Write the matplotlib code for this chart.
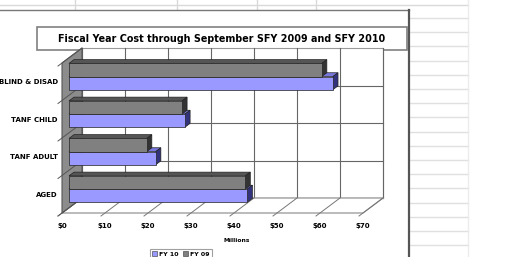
import numpy as np
import matplotlib
matplotlib.use('Agg')
import matplotlib.pyplot as plt
from matplotlib import transforms
from matplotlib.patches import Polygon, Rectangle, Patch

# dati (milioni di $)
categorie = ['AGED', 'TANF ADULT', 'TANF CHILD', 'BLIND & DISAD']
fy09 = [41.0, 18.1, 26.3, 58.8]
fy10 = [41.5, 20.2, 27.0, 61.4]
tick_vals = [0, 10, 20, 30, 40, 50, 60, 70]
tick_labels = ['$0', '$10', '$20', '$30', '$40', '$50', '$60', '$70']
titolo = 'Fiscal Year Cost through September SFY 2009 and SFY 2010'

W, H = 509, 257
fig = plt.figure(figsize=(W / 100, H / 100), dpi=100)
fig.patch.set_facecolor('white')

# asse di sfondo in pixel (foglio excel + riquadro del grafico)
bg = fig.add_axes([0, 0, 1, 1])
bg.set_xlim(0, W)
bg.set_ylim(H, 0)
bg.axis('off')

grid_c = '#d9d9d9'
bg.plot([0, 468], [4.5, 4.5], color=grid_c, lw=1)
for xv in [75, 177, 257, 316]:
    bg.plot([xv, xv], [0, 9], color=grid_c, lw=1)
for k in range(18):
    yv = 18 + 14.2 * k
    bg.plot([410, 468], [yv, yv], color='#e0e0e0', lw=1)
bg.plot([468, 468], [0, H], color='#ececec', lw=1)

bg.plot([-2, 409], [9.5, 9.5], color='#777777', lw=1)
bg.plot([409, 409], [9.5, H + 2], color='#555555', lw=1.6)

bg.add_patch(Rectangle((37, 27), 370, 23, facecolor='white', edgecolor='#808080', lw=1.2))
bg.text(222, 38.5, titolo, ha='center', va='center', fontsize=6.9, fontweight='bold')
bg.text(237, 241, 'Millions', ha='center', va='center', fontsize=4.3, fontweight='bold')

# asse dei dati sul piano frontale
ax = fig.add_axes([62 / W, 1 - 213 / H, 301 / W, 150 / H])
ax.set_xlim(0, 70)
ax.set_ylim(0, 4)
ax.patch.set_alpha(0)
for s in ax.spines.values():
    s.set_visible(False)
ax.set_xticks(tick_vals)
ax.set_xticklabels(tick_labels, fontsize=5, fontweight='bold')
ax.set_yticks(np.arange(len(categorie)) + 0.5)
ax.set_yticklabels(categorie, fontsize=5, fontweight='bold')
ax.tick_params(axis='x', length=0, pad=7)
ax.tick_params(axis='y', length=0, pad=3)

DX, DY = 20, 15  # spostamento in profondita (pixel)


def shift(d):
    return transforms.offset_copy(ax.transData, fig=fig, x=DX * d, y=DY * d, units='dots')


def P(x, y, d):
    px, py = ax.transData.transform((x, y))
    return (px + DX * d, py + DY * d)


def poly(pts, z=1, **kw):
    p = Polygon(pts, closed=True, transform=transforms.IdentityTransform(), clip_on=False,
                zorder=z, **kw)
    ax.add_patch(p)


def linea(p1, p2, z=1.5, **kw):
    ax.plot([p1[0], p2[0]], [p1[1], p2[1]], transform=transforms.IdentityTransform(),
            clip_on=False, zorder=z, **kw)


wall_c = '#666666'
# parete di fondo
poly([P(0, 0, 1), P(70, 0, 1), P(70, 4, 1), P(0, 4, 1)], facecolor='white', edgecolor='#999999', lw=0.8)
for v in tick_vals:
    linea(P(v, 0, 1), P(v, 4, 1), color=wall_c, lw=0.8)
for y in [1, 2, 3]:
    linea(P(0, y, 1), P(70, y, 1), color=wall_c, lw=0.8)
linea(P(0, 0, 1), P(70, 0, 1), color='#999999', lw=0.8)

# pavimento
poly([P(0, 0, 0), P(70, 0, 0), P(70, 0, 1), P(0, 0, 1)], z=1.6, facecolor='white', edgecolor='#888888', lw=0.8)
for v in tick_vals:
    linea(P(v, 0, -0.2), P(v, 0, 1), z=1.7, color='#777777', lw=0.7)

# parete sinistra
poly([P(0, 0, 0), P(0, 0, 1), P(0, 4, 1), P(0, 4, 0)], z=1.8, facecolor='#8c8c8c', edgecolor='#555555', lw=0.8)
for y in [0, 1, 2, 3, 4]:
    linea(P(0, y, -0.2), P(0, y, 1), z=1.9, color='#555555', lw=0.7)

# barre
d0, d1 = 0.35, 0.6
h = 0.35
y_pos = np.arange(len(categorie)) + 0.5
stili = {
    'FY 10': ('#9999ff', '#7777dd', '#33337d'),
    'FY 09': ('#808080', '#555555', '#333333'),
}

for i in range(len(categorie)):
    for nome, val, yc in [('FY 10', fy10[i], y_pos[i] - h / 2), ('FY 09', fy09[i], y_pos[i] + h / 2)]:
        front, top, side = stili[nome]
        y0, y1 = yc - h / 2, yc + h / 2
        poly([P(0, y1, d0), P(val, y1, d0), P(val, y1, d1), P(0, y1, d1)], z=3,
             facecolor=top, edgecolor='#222222', lw=0.5)
        poly([P(val, y0, d0), P(val, y0, d1), P(val, y1, d1), P(val, y1, d0)], z=3,
             facecolor=side, edgecolor='#222222', lw=0.5)
        ax.barh(yc, val, height=h, color=front, edgecolor='#222222', lw=0.5,
                transform=shift(d0), clip_on=False, zorder=3)

ax.set_xlim(0, 70)
ax.set_ylim(0, 4)

handles = [Patch(facecolor=stili['FY 10'][0], edgecolor='#333333', lw=0.4),
           Patch(facecolor=stili['FY 09'][0], edgecolor='#333333', lw=0.4)]
leg = ax.legend(handles, ['FY 10', 'FY 09'], ncol=2, loc='upper left',
                bbox_to_anchor=(147 / W, 1 - 246 / H), bbox_transform=fig.transFigure,
                prop={'size': 4.5, 'weight': 'bold'}, frameon=True, fancybox=False,
                handlelength=0.8, handleheight=0.8, handletextpad=0.3, columnspacing=0.8,
                borderpad=0.3)
leg.get_frame().set_edgecolor('#888888')
leg.get_frame().set_linewidth(0.8)

fig.savefig('out.png', dpi=100, facecolor='white')
